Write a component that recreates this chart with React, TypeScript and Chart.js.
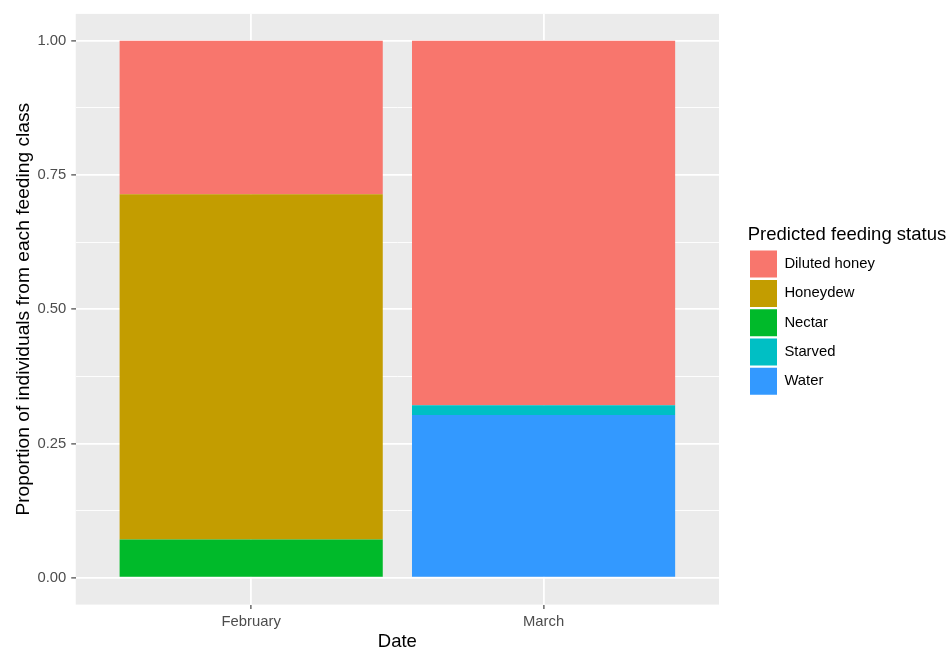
import React, { useEffect, useRef } from "react";
import { Chart, registerables } from "chart.js";

Chart.register(...registerables);

// ---- data ----
const categories = ["February", "March"];
const seriesNames = ["Diluted honey", "Honeydew", "Nectar", "Starved", "Water"];
const dilutedHoney = [0.286, 0.679];
const honeydew = [0.643, null];
const nectar = [0.071, null];
const starved = [null, 0.018];
const water = [null, 0.303];
const seriesColors = ["#F8766D", "#C39D00", "#00BA2A", "#00BFC4", "#3399FF"];
const yMajorTicks = [0, 0.25, 0.5, 0.75, 1];
const yMinorTicks = [0.125, 0.375, 0.625, 0.875];

const FONT = "'Liberation Sans', Arial, sans-serif";
const LEGEND_WIDTH = 200.3;

const panelBg = {
  id: "panelBg",
  beforeDraw(chart: any) {
    const { ctx, chartArea } = chart;
    if (!chartArea) return;
    ctx.save();
    ctx.fillStyle = "#EBEBEB";
    ctx.fillRect(chartArea.left, chartArea.top, chartArea.width, chartArea.height);
    ctx.restore();
  },
};

const legendWidthFix = {
  id: "legendWidthFix",
  afterInit(chart: any) {
    const lg = chart.legend;
    if (!lg || lg.__fixed) return;
    lg.__fixed = true;
    const orig = lg.fit.bind(lg);
    lg.fit = function () {
      orig();
      if (this.options && this.options.display) this.width = LEGEND_WIDTH;
    };
  },
};

export default function App() {
  const ref = useRef<HTMLCanvasElement | null>(null);

  useEffect(() => {
    if (!ref.current) return;
    const seriesValues = [dilutedHoney, honeydew, nectar, starved, water];
    // stacking order: first dataset at the bottom
    const datasets = seriesNames
      .map((name, s) => ({
        label: name,
        data: seriesValues[s].map((v, i) => ({ x: i + 1, y: v })),
        backgroundColor: seriesColors[s],
        borderWidth: 0,
        categoryPercentage: 1,
        barPercentage: 0.9,
      }))
      .reverse();

    const isMajor = (v: number) => yMajorTicks.some((m) => Math.abs(m - v) < 1e-9);

    const chart = new Chart(ref.current, {
      type: "bar",
      data: { datasets: datasets as any },
      plugins: [panelBg, legendWidthFix],
      options: {
        animation: false,
        responsive: false,
        devicePixelRatio: 1,
        layout: { padding: { top: 13, left: 8, right: 0, bottom: 0 } },
        plugins: {
          tooltip: { enabled: false },
          legend: {
            position: "right",
            align: "center",
            fullSize: false,
            reverse: true,
            labels: {
              boxWidth: 27,
              boxHeight: 27,
              padding: 2.3,
              color: "#000000",
              font: { family: FONT, size: 14.8 },
            },
            title: {
              display: true,
              text: "Predicted feeding status",
              position: "start",
              color: "#000000",
              padding: 4.2,
              font: { family: FONT, size: 18.5, lineHeight: 1 },
            },
          },
        },
        scales: {
          x: {
            type: "linear",
            stacked: true,
            min: 0.4,
            max: 2.6,
            offset: false,
            afterBuildTicks: (scale: any) => {
              scale.ticks = categories.map((_, i) => ({ value: i + 1 }));
            },
            ticks: {
              callback: (_v: any, i: number) => categories[i],
              color: "#4D4D4D",
              padding: 5.8,
              maxRotation: 0,
              autoSkip: false,
              font: { family: FONT, size: 14.8, lineHeight: 1 },
            },
            grid: {
              offset: false,
              color: "#FFFFFF",
              lineWidth: 1.8,
              drawTicks: true,
              tickLength: 4.5,
              tickColor: "#333333",
              tickWidth: 1.1,
            },
            border: { display: false },
            title: {
              display: true,
              text: "Date",
              color: "#000000",
              padding: { top: 1.55, bottom: 3.7 },
              font: { family: FONT, size: 18.5, lineHeight: 0.5 },
            },
          },
          y: {
            type: "linear",
            stacked: true,
            min: -0.05,
            max: 1.05,
            afterBuildTicks: (scale: any) => {
              scale.ticks = [...yMajorTicks, ...yMinorTicks]
                .sort((a, b) => a - b)
                .map((v) => ({ value: v }));
            },
            ticks: {
              callback: (v: any) => (isMajor(Number(v)) ? Number(v).toFixed(2) : ""),
              color: "#4D4D4D",
              padding: 5,
              font: { family: FONT, size: 14.8 },
            },
            grid: {
              color: "#FFFFFF",
              lineWidth: (c: any) => (c.tick && isMajor(c.tick.value) ? 1.8 : 0.9),
              drawTicks: true,
              tickLength: 4.5,
              tickColor: (c: any) =>
                c.tick && isMajor(c.tick.value) ? "#333333" : "rgba(0,0,0,0)",
              tickWidth: 1.1,
            },
            border: { display: false },
            title: {
              display: true,
              text: "Proportion of individuals from each feeding class",
              color: "#000000",
              padding: { top: 11.05, bottom: 3.8 },
              font: { family: FONT, size: 19.2, lineHeight: 0.5 },
            },
          },
          spacer: {
            type: "linear",
            position: "right",
            display: true,
            ticks: { display: false },
            grid: {
              display: true,
              drawOnChartArea: false,
              drawTicks: true,
              tickLength: 28.7,
              tickColor: "rgba(0,0,0,0)",
            },
            border: { display: false },
            title: { display: false },
          },
        },
      } as any,
    });
    return () => chart.destroy();
  }, []);

  return (
    <div style={{ position: "absolute", left: 0, top: 0, width: 948, height: 650 }}>
      <canvas ref={ref} width={948} height={650} style={{ display: "block" }} />
    </div>
  );
}
